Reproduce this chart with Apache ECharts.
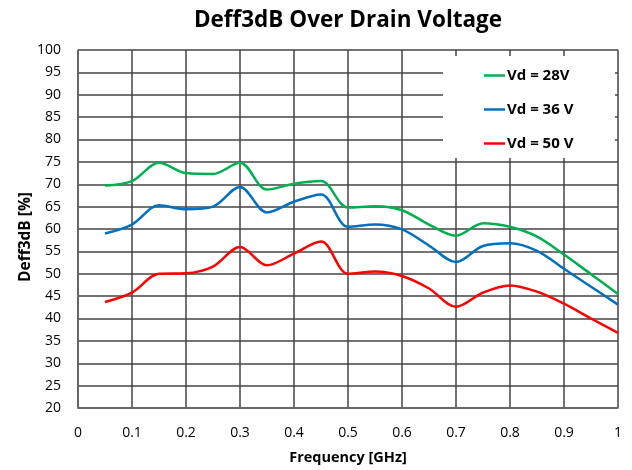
<!DOCTYPE html>
<html>
<head>
<meta charset="utf-8">
<script src="https://cdn.jsdelivr.net/npm/echarts@6/dist/echarts.min.js"></script>
<style>
  html, body { margin: 0; padding: 0; background: #fff; }
  #chart { width: 632px; height: 470px; }
</style>
</head>
<body>
<div id="chart"></div>
<script>
// frequency points (GHz)
const freq = [0.05, 0.1, 0.15, 0.2, 0.25, 0.3, 0.35, 0.4, 0.45, 0.5,
              0.55, 0.6, 0.65, 0.7, 0.75, 0.8, 0.85, 0.9, 0.95, 1.0]
const vd28 = [69.7, 70.7, 74.8, 72.5, 72.3, 74.8, 68.8, 70.1, 70.7, 64.8,
              65.1, 64.2, 61.0, 58.5, 61.3, 60.5, 58.3, 54.3, 49.9, 45.5]
const vd36 = [59.0, 61.0, 65.3, 64.4, 65.0, 69.4, 63.7, 66.1, 67.7, 60.5,
              61.0, 59.9, 56.3, 52.6, 56.2, 56.8, 55.1, 51.1, 47.1, 43.1]
const vd50 = [43.7, 45.8, 50.0, 50.1, 51.6, 56.0, 51.9, 54.5, 57.2, 50.0,
              50.5, 49.5, 46.7, 42.6, 45.8, 47.4, 46.0, 43.3, 40.0, 36.8]
const seriesNames = ['Vd = 28V', 'Vd = 36 V', 'Vd = 50 V']
const colors = ['#00B050', '#0070C0', '#FF0000']

const font = '"Open Sans", "Liberation Sans", sans-serif'
const chart = echarts.init(document.getElementById('chart'))

const pair = arr => freq.map((f, i) => [f, arr[i]])

const option = {
  color: colors,
  animation: false,
  title: {
    text: 'Deff3dB Over Drain Voltage',
    left: 343,
    top: 4,
    textAlign: 'center',
    textStyle: { fontFamily: font, fontSize: 22.5, fontWeight: 'bold', color: '#000' }
  },
  grid: { left: 78, right: 14, top: 50, bottom: 61 },
  // white box behind the legend, hides the grid there
  graphic: [{
    type: 'rect',
    z: 3,
    shape: { x: 443, y: 56, width: 172, height: 102 },
    style: { fill: '#fff' }
  }],
  legend: {
    orient: 'vertical',
    left: 484,
    top: 68,
    icon: 'rect',
    itemWidth: 21,
    itemHeight: 2.5,
    itemGap: 19,
    padding: 0,
    textStyle: { fontFamily: font, fontSize: 15, fontWeight: 'bold', color: '#000', padding: [0, 0, 0, -3] },
    data: seriesNames
  },
  xAxis: {
    type: 'value',
    min: 0,
    max: 1,
    interval: 0.1,
    name: 'Frequency [GHz]',
    nameLocation: 'middle',
    nameGap: 42,
    nameTextStyle: { fontFamily: font, fontSize: 14.5, fontWeight: 'bold', color: '#000' },
    axisLine: { show: true, lineStyle: { color: '#666', width: 1.5 } },
    axisTick: { show: false },
    axisLabel: { fontFamily: font, fontSize: 14, color: '#000', margin: 18 },
    splitLine: { show: true, lineStyle: { color: '#444', width: 1.5 } }
  },
  yAxis: {
    type: 'value',
    min: 20,
    max: 100,
    interval: 5,
    name: 'Deff3dB [%]',
    nameLocation: 'middle',
    nameGap: 44,
    nameMoveOverlap: false,
    nameTextStyle: { fontFamily: font, fontSize: 15.5, fontWeight: 'bold', color: '#000', padding: [0, 16, 0, 0] },
    axisLine: { show: true, lineStyle: { color: '#666', width: 1.5 } },
    axisTick: { show: false },
    axisLabel: { fontFamily: font, fontSize: 14, color: '#000', margin: 17 },
    splitLine: { show: true, lineStyle: { color: '#444', width: 1.5 } }
  },
  series: [vd28, vd36, vd50].map((arr, i) => ({
    name: seriesNames[i],
    type: 'line',
    data: pair(arr),
    smooth: 0.33,
    symbol: 'none',
    lineStyle: { width: 2.5, color: colors[i] },
    z: 2
  }))
}

chart.setOption(option)
</script>
</body>
</html>
